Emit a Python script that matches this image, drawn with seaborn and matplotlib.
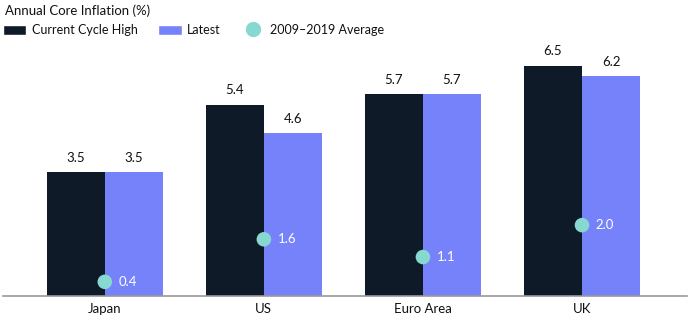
import matplotlib
matplotlib.use("Agg")
import matplotlib.pyplot as plt
import seaborn as sns
import pandas as pd
from matplotlib.patches import Patch
from matplotlib.lines import Line2D

regions = ["Japan", "US", "Euro Area", "UK"]
cycle_high = [3.5, 5.4, 5.7, 6.5]
latest = [3.5, 4.6, 5.7, 6.2]
avg_2009_2019 = [0.4, 1.6, 1.1, 2.0]

series_names = ["Current Cycle High", "Latest"]
colors = ["#0f1a28", "#7682fa"]
dot_color = "#88d8d2"

sns.set_theme(style="white")
plt.rcParams["font.family"] = ["Lato", "DejaVu Sans"]
FS = 9.5

df = pd.DataFrame({
    "Region": regions * 2,
    "Series": [series_names[0]] * 4 + [series_names[1]] * 4,
    "Value": cycle_high + latest,
})

fig = plt.figure(figsize=(6.9, 3.21), dpi=100)
ax = fig.add_axes([3 / 690, 25 / 321, 684 / 690, 248 / 321])

sns.barplot(data=df, x="Region", y="Value", hue="Series", palette=colors,
            width=0.73, ax=ax, legend=False, saturation=1, linewidth=0)

for c in ax.containers:
    ax.bar_label(c, fmt="%.1f", padding=6, fontsize=FS, color="#111111")

sns.scatterplot(x=list(range(len(regions))), y=avg_2009_2019, ax=ax,
                color=dot_color, s=110, edgecolor="none", zorder=5, legend=False)
for i, v in enumerate(avg_2009_2019):
    ax.annotate(f"{v:.1f}", (i, v), xytext=(10, 0), textcoords="offset points",
                color="white", fontsize=FS, va="center", ha="left", zorder=6)

ax.set_xlim(-0.64, 3.66)
ax.set_ylim(0, 7)
ax.set_xlabel("")
ax.set_ylabel("")
ax.set_yticks([])
ax.tick_params(axis="x", length=0, labelsize=FS, pad=5, labelcolor="#111111")
for s in ["top", "right", "left"]:
    ax.spines[s].set_visible(False)
ax.spines["bottom"].set_color("#999999")
ax.spines["bottom"].set_linewidth(1.2)

fig.text(5 / 690, 1 - 11 / 321, "Annual Core Inflation (%)", fontsize=FS,
         va="center", ha="left", color="#111111")

handles = [
    Patch(facecolor=colors[0], label=series_names[0]),
    Patch(facecolor=colors[1], label=series_names[1]),
    Line2D([], [], marker="o", linestyle="none", markersize=11,
           markerfacecolor=dot_color, markeredgecolor="none", label="2009\u20132019 Average"),
]
fig.legend(handles=handles, loc="center left", bbox_to_anchor=(0 / 690, 1 - 30 / 321),
           ncol=3, frameon=False, fontsize=9, handlelength=1.9, handleheight=0.9,
           columnspacing=1.6, handletextpad=0.45, borderaxespad=0, borderpad=0.2,
           labelcolor="#111111")

fig.savefig("out.png", dpi=100)
